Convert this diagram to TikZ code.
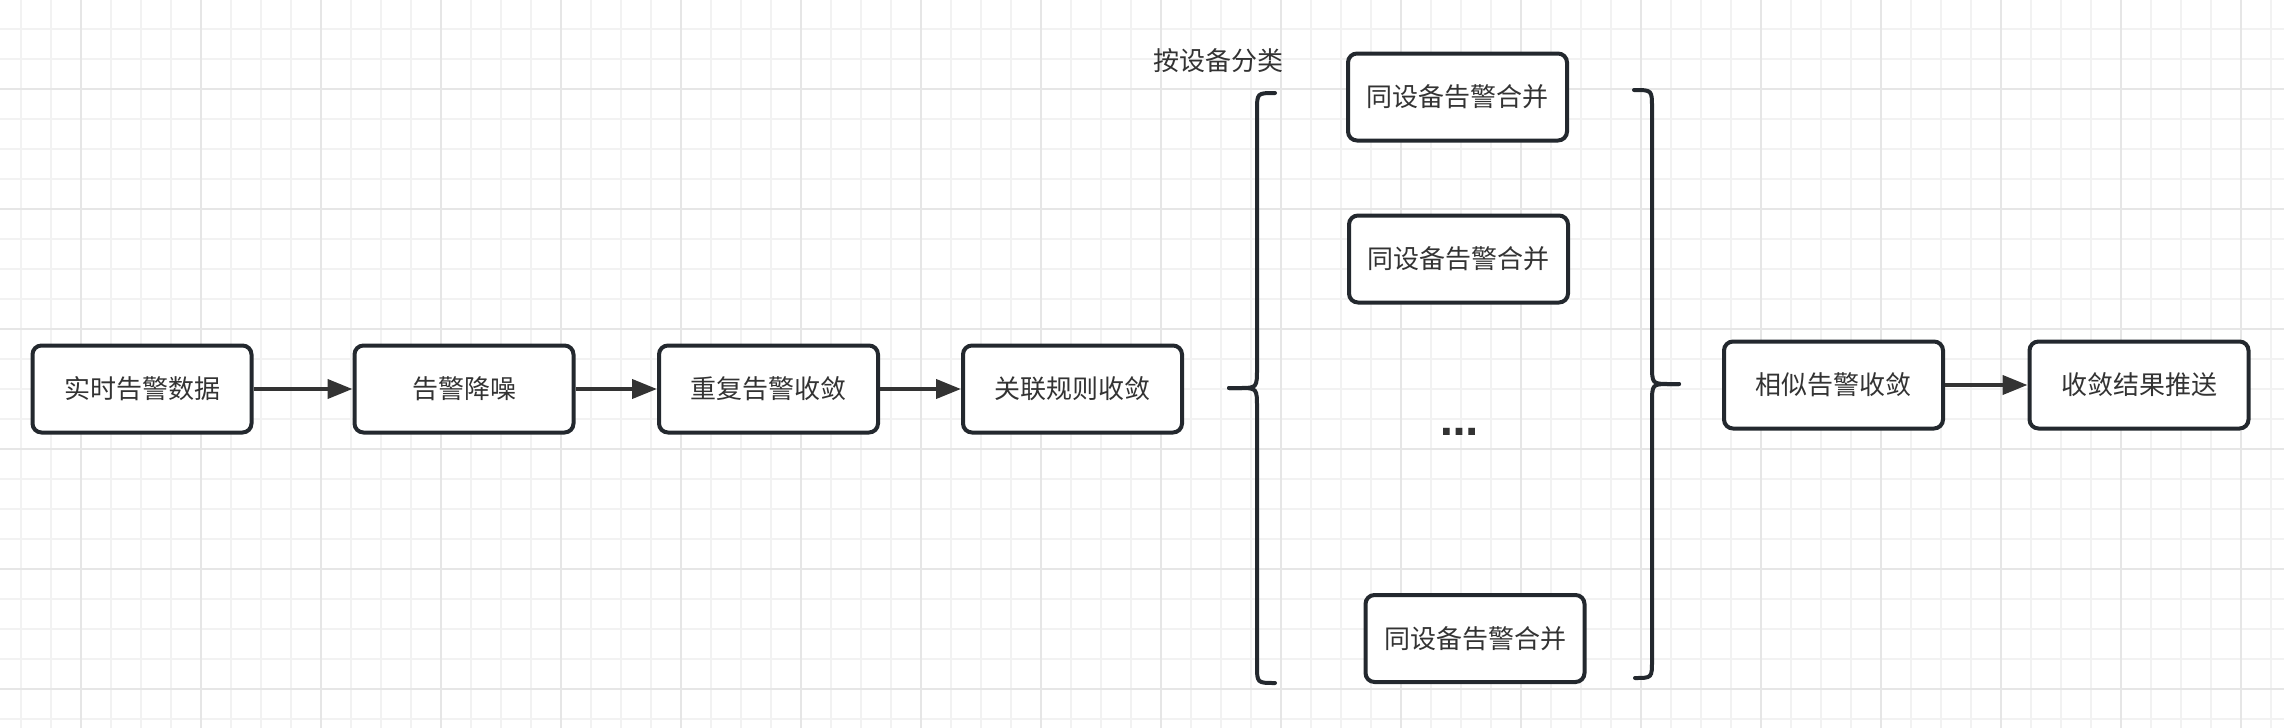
\documentclass[tikz,border=0pt]{standalone}
\usepackage{fontspec}
\newfontfamily\cjk{Noto Sans CJK SC}
\newfontfamily\dejavub{DejaVu Sans Bold}
\usetikzlibrary{arrows.meta}
\definecolor{gridminor}{HTML}{F2F2F2}
\definecolor{gridmajor}{HTML}{E6E6E6}
\definecolor{boxline}{HTML}{23282E}
\definecolor{txt}{HTML}{333333}
\tikzset{
  procbox/.style={draw=boxline, line width=4pt, rounded corners=9pt, fill=white,
    minimum width=219pt, minimum height=87pt, inner sep=0pt, text=txt,
    font=\cjk\fontsize{26}{30}\selectfont},
  plainlabel/.style={text=txt, inner sep=0pt, font=\cjk\fontsize{26}{30}\selectfont},
  flow/.style={draw=txt, line width=4pt, -{Triangle[length=25pt,width=19pt]}},
  brace/.style={draw=boxline, line width=4pt, line cap=round}
}
\begin{document}
\begin{tikzpicture}[x=1pt,y=-1pt]
\useasboundingbox (0,0) rectangle (2284,728);
\fill[white] (0,0) rectangle (2284,728);
% grid
\foreach \x in {21,51,...,2283} \draw[gridminor, line width=2pt] (\x,0) -- (\x,728);
\foreach \y in {29,59,...,727} \draw[gridminor, line width=2pt] (0,\y) -- (2284,\y);
\foreach \x in {81,201,...,2283} \draw[gridmajor, line width=2pt] (\x,0) -- (\x,728);
\foreach \y in {89,209,...,727} \draw[gridmajor, line width=2pt] (0,\y) -- (2284,\y);

% main row
\node[procbox] (a) at (142,389) {实时告警数据};
\node[procbox] (b) at (464,389) {告警降噪};
\node[procbox] (c) at (768.5,389) {重复告警收敛};
\node[procbox] (d) at (1072.5,389) {关联规则收敛};

\draw[flow] (a) -- (b);
\draw[flow] (b) -- (c);
\draw[flow] (c) -- (d);

% grouping
\node[plainlabel] (lab) at (1218,61) {按设备分类};
\node[procbox] (g1) at (1457.5,97) {同设备告警合并};
\node[procbox] (g2) at (1458.5,259) {同设备告警合并};
\node[plainlabel, font=\dejavub\fontsize{38}{44}\selectfont, anchor=base] (dots) at (1459,435) {…};
\node[procbox] (g3) at (1475,638.5) {同设备告警合并};

% left brace
\coordinate (lbt) at (1275,93);
\coordinate (lbtip) at (1229,388);
\coordinate (lbb) at (1275,683);
\draw[brace] (lbt) .. controls (1257,93) .. (1257,111) -- (1257,368)
  .. controls (1257,388) .. (1239,388) -- (lbtip);
\draw[brace] (lbtip) -- (1239,388) .. controls (1257,388) .. (1257,408)
  -- (1257,665) .. controls (1257,683) .. (lbb);
% right brace
\coordinate (rbt) at (1634,90);
\coordinate (rbtip) at (1679,384);
\coordinate (rbb) at (1635,678);
\draw[brace] (rbt) .. controls (1652,90) .. (1652,108) -- (1652,364)
  .. controls (1652,384) .. (1670,384) -- (rbtip);
\draw[brace] (rbtip) -- (1670,384) .. controls (1652,384) .. (1652,404)
  -- (1652,660) .. controls (1652,678) .. (rbb);

% right part
\node[procbox] (e) at (1833.5,385) {相似告警收敛};
\node[procbox] (f) at (2139,385) {收敛结果推送};
\draw[flow] (e) -- (f);
\end{tikzpicture}
\end{document}
